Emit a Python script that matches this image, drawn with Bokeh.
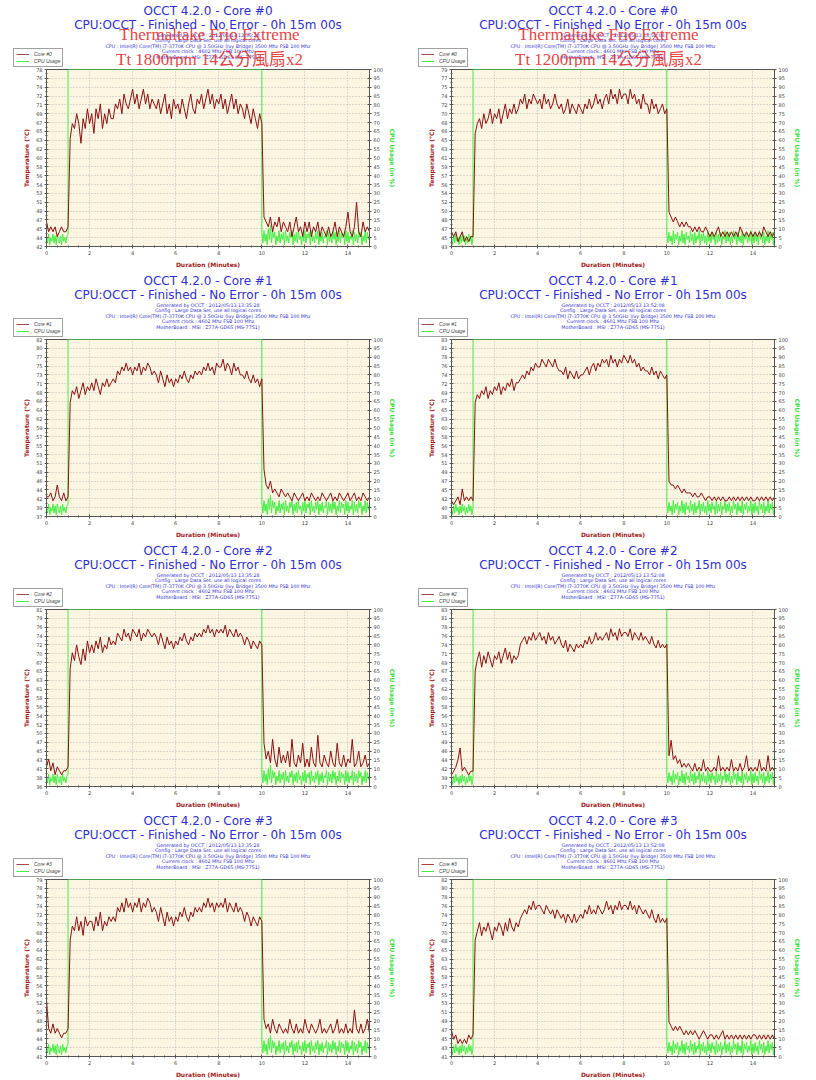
from bokeh.plotting import figure
from bokeh.layouts import column, row
from bokeh.models import Range1d, LinearAxis, FixedTicker, Label, Legend, LegendItem
from bokeh.embed import file_html
from bokeh.resources import INLINE

# ---------------- data ----------------
TIME = [round(i * 0.1, 1) for i in range(151)]          # minutes, one sample / 6 s
CPU_T_IDLE1 = [round(i * 0.05, 2) for i in range(21)]    # 0 .. 1 min
CPU_T_IDLE2 = [round(10 + i * 0.05, 2) for i in range(101)]  # 10 .. 15 min
CPU_T_LOAD = [1.0, 10.0]
CPU_LOAD = [100, 100]

# left column run (Tt 1800rpm)
cpu_a_start = [6, 2, 7, 1, 5, 3, 7, 2, 6, 1, 7, 4, 2, 6, 1, 7, 3, 5, 2, 6, 7]
cpu_a_end = [8, 2, 9, 3, 7, 1, 10, 4, 12, 2, 9, 5, 8, 1, 6, 3, 9, 2, 7, 4,
             8, 1, 9, 3, 6, 2, 8, 5, 9, 1, 7, 3, 8, 2, 9, 4, 6, 1, 8, 3,
             9, 2, 7, 5, 8, 1, 9, 3, 6, 2, 8, 4, 9, 1, 7, 3, 8, 2, 6, 5,
             9, 1, 8, 3, 7, 2, 9, 4, 8, 1, 6, 3, 9, 2, 8, 5, 7, 1, 9, 3,
             8, 2, 6, 4, 9, 1, 8, 3, 7, 2, 9, 5, 8, 1, 6, 3, 9, 2, 8, 4, 7]
# right column run (Tt 1200rpm)
cpu_b_start = [5, 1, 6, 2, 7, 3, 5, 1, 6, 2, 7, 3, 6, 1, 5, 2, 7, 3, 6, 1, 5]
cpu_b_end = [7, 2, 8, 3, 6, 1, 9, 2, 7, 4, 8, 1, 6, 3, 9, 2, 7, 1, 8, 4,
             6, 2, 9, 3, 7, 1, 8, 2, 6, 4, 9, 1, 7, 3, 8, 2, 6, 1, 9, 3,
             7, 2, 8, 4, 6, 1, 9, 2, 7, 3, 8, 1, 6, 4, 9, 2, 7, 3, 8, 1,
             6, 2, 9, 4, 7, 1, 8, 3, 6, 2, 9, 1, 7, 4, 8, 2, 6, 3, 9, 1,
             7, 2, 8, 3, 6, 1, 9, 4, 7, 2, 8, 1, 6, 3, 9, 2, 7, 4, 8, 1, 6]

core0_1800 = [47, 45, 46, 45, 46, 44, 45, 46, 45, 45, 46,
              64, 67, 66, 69, 67, 63, 68, 66, 70, 67,
              69, 65, 70, 68, 71, 66, 69, 67, 70, 68,
              68, 71, 70, 72, 69, 73, 71, 70, 72, 74,
              71, 73, 70, 72, 74, 71, 73, 70, 72, 71,
              70, 72, 69, 71, 73, 69, 71, 68, 72, 70,
              71, 69, 72, 70, 68, 71, 73, 70, 69, 72,
              71, 73, 70, 72, 74, 71, 73, 70, 72, 71,
              73, 70, 72, 69, 71, 73, 70, 72, 69, 71,
              70, 68, 71, 69, 67, 70, 68, 66, 69, 67,
              48, 47, 46, 48, 45, 47, 46, 48, 45, 47,
              46, 45, 47, 44, 46, 48, 45, 46, 44, 47,
              45, 47, 44, 46, 45, 47, 44, 46, 45, 44,
              46, 44, 45, 47, 44, 46, 45, 44, 46, 49,
              45, 44, 46, 51, 45, 44, 47, 45, 46, 45]
core0_1200 = [46, 45, 46, 44, 45, 46, 44, 45, 44, 45, 45,
              66, 68, 69, 67, 70, 68, 69, 71, 68, 70,
              69, 71, 68, 70, 72, 69, 71, 70, 72, 70,
              71, 73, 72, 74, 71, 73, 72, 74, 73, 72,
              73, 71, 74, 72, 73, 71, 72, 74, 72, 71,
              72, 70, 71, 73, 70, 72, 71, 70, 72, 71,
              70, 72, 71, 73, 71, 72, 74, 72, 73, 71,
              73, 74, 72, 75, 73, 74, 72, 75, 73, 74,
              74, 72, 75, 73, 74, 72, 73, 71, 74, 72,
              72, 70, 73, 71, 72, 70, 71, 72, 70, 71,
              50, 49, 48, 49, 48, 47, 48, 47, 48, 47,
              47, 46, 47, 46, 47, 46, 46, 47, 46, 45,
              46, 45, 46, 47, 45, 46, 45, 46, 45, 46,
              45, 46, 45, 47, 46, 45, 46, 45, 46, 45,
              46, 45, 46, 45, 47, 46, 45, 46, 45, 46]
core1_1800 = [42, 42, 43, 41, 42, 45, 42, 41, 43, 41, 42,
              66, 69, 68, 70, 67, 69, 71, 68, 70, 69,
              71, 69, 72, 70, 68, 71, 70, 72, 70, 71,
              72, 71, 74, 73, 75, 74, 76, 74, 75, 73,
              75, 74, 76, 73, 75, 74, 76, 75, 73, 74,
              73, 71, 74, 72, 70, 73, 71, 72, 70, 72,
              71, 73, 72, 74, 72, 71, 73, 72, 74, 73,
              74, 73, 75, 74, 76, 74, 75, 73, 76, 75,
              75, 77, 74, 76, 75, 73, 76, 74, 75, 73,
              73, 72, 74, 72, 71, 73, 71, 72, 70, 72,
              49, 45, 44, 46, 43, 44, 43, 42, 44, 43,
              42, 43, 42, 41, 43, 42, 41, 42, 43, 41,
              42, 41, 43, 42, 41, 42, 41, 43, 42, 41,
              42, 43, 41, 42, 41, 43, 42, 41, 42, 43,
              41, 42, 43, 41, 42, 41, 43, 42, 41, 42]
core1_1200 = [42, 41, 42, 43, 41, 45, 42, 43, 42, 43, 42,
              67, 69, 68, 70, 69, 71, 68, 70, 69, 71,
              70, 72, 69, 71, 70, 72, 71, 73, 70, 72,
              72, 73, 74, 73, 75, 74, 76, 75, 77, 76,
              76, 78, 77, 76, 78, 77, 76, 78, 76, 75,
              75, 74, 76, 73, 75, 74, 73, 75, 73, 74,
              74, 75, 76, 74, 76, 77, 75, 77, 76, 78,
              77, 78, 76, 79, 77, 78, 76, 78, 77, 79,
              78, 77, 79, 77, 78, 76, 77, 75, 76, 75,
              75, 74, 76, 74, 75, 73, 75, 74, 73, 74,
              47, 46, 46, 45, 46, 45, 44, 45, 44, 44,
              44, 43, 44, 43, 43, 44, 43, 42, 43, 43,
              42, 43, 42, 43, 42, 43, 42, 42, 43, 42,
              43, 42, 43, 42, 43, 42, 43, 42, 43, 42,
              42, 43, 42, 43, 42, 43, 42, 43, 42, 43]
core2_1800 = [41, 43, 40, 42, 39, 41, 40, 39, 40, 40, 41,
              66, 70, 68, 72, 69, 67, 71, 68, 73, 70,
              72, 70, 73, 71, 74, 70, 72, 71, 74, 72,
              73, 72, 75, 74, 73, 76, 74, 75, 73, 76,
              75, 74, 76, 73, 75, 74, 76, 75, 74, 75,
              74, 72, 75, 73, 71, 74, 72, 73, 71, 73,
              72, 74, 73, 75, 73, 72, 74, 73, 75, 74,
              75, 74, 76, 75, 77, 75, 76, 74, 76, 75,
              76, 75, 77, 74, 76, 75, 74, 76, 74, 75,
              74, 72, 74, 73, 71, 73, 72, 71, 73, 72,
              47, 43, 45, 42, 48, 43, 41, 46, 42, 44,
              42, 45, 41, 48, 42, 41, 44, 42, 47, 41,
              43, 41, 46, 42, 41, 49, 42, 41, 44, 42,
              41, 45, 42, 41, 47, 42, 41, 44, 41, 43,
              42, 48, 41, 42, 45, 41, 42, 44, 41, 42]
core2_1200 = [40, 41, 42, 44, 47, 41, 42, 41, 40, 41, 41,
              67, 70, 72, 68, 71, 69, 72, 70, 68, 71,
              70, 72, 69, 71, 73, 70, 72, 69, 71, 70,
              71, 74, 75, 76, 74, 76, 75, 77, 75, 76,
              77, 75, 76, 74, 77, 75, 76, 74, 75, 76,
              74, 73, 75, 72, 74, 73, 72, 74, 73, 74,
              73, 75, 74, 76, 74, 75, 77, 75, 76, 75,
              76, 77, 75, 78, 76, 77, 75, 78, 76, 77,
              77, 76, 78, 75, 77, 76, 75, 77, 75, 76,
              75, 74, 76, 74, 73, 75, 73, 74, 73, 74,
              45, 49, 44, 45, 43, 44, 42, 43, 42, 43,
              42, 41, 43, 41, 42, 41, 44, 41, 42, 41,
              41, 42, 41, 45, 41, 42, 41, 42, 41, 44,
              41, 42, 41, 43, 41, 42, 45, 41, 42, 41,
              42, 41, 44, 41, 42, 41, 45, 41, 42, 41]
core3_1800 = [53, 47, 46, 48, 46, 47, 46, 45, 46, 46, 47,
              66, 69, 68, 71, 68, 70, 67, 71, 69, 70,
              70, 68, 71, 69, 72, 68, 70, 69, 71, 70,
              71, 70, 73, 72, 74, 72, 75, 73, 74, 72,
              74, 73, 75, 72, 74, 73, 75, 74, 72, 73,
              72, 70, 73, 71, 69, 72, 70, 71, 69, 71,
              70, 72, 71, 73, 71, 70, 72, 71, 73, 72,
              73, 72, 74, 73, 75, 73, 74, 72, 74, 73,
              74, 73, 75, 72, 74, 73, 72, 74, 72, 73,
              72, 70, 72, 71, 69, 71, 70, 69, 71, 70,
              49, 47, 48, 46, 49, 47, 46, 48, 47, 46,
              47, 46, 49, 47, 46, 48, 46, 47, 46, 49,
              47, 46, 48, 47, 46, 47, 49, 46, 47, 46,
              47, 48, 46, 47, 49, 46, 47, 46, 48, 46,
              47, 46, 51, 47, 46, 48, 46, 47, 49, 46]
core3_1200 = [47, 45, 46, 44, 45, 44, 45, 44, 46, 45, 46,
              68, 70, 72, 69, 71, 70, 72, 70, 68, 71,
              70, 72, 71, 69, 72, 70, 73, 71, 70, 72,
              71, 73, 74, 75, 74, 76, 75, 77, 75, 76,
              76, 75, 74, 76, 75, 74, 75, 73, 75, 74,
              73, 74, 72, 74, 73, 72, 74, 72, 73, 74,
              73, 75, 74, 76, 74, 75, 74, 76, 75, 74,
              75, 77, 75, 76, 74, 76, 75, 77, 75, 76,
              76, 75, 77, 75, 76, 74, 76, 75, 74, 75,
              74, 73, 75, 73, 72, 74, 72, 73, 72, 73,
              49, 48, 47, 48, 47, 48, 47, 46, 47, 46,
              47, 46, 47, 46, 45, 46, 47, 46, 45, 46,
              46, 45, 46, 45, 46, 47, 45, 46, 45, 46,
              45, 46, 45, 46, 45, 46, 45, 46, 45, 46,
              46, 45, 46, 45, 46, 45, 46, 45, 46, 45]

# left-axis tick labels (21 evenly spaced ticks) per panel
ticks_c0_1800 = [42, 44, 45, 47, 49, 51, 53, 54, 56, 58, 60, 62, 63, 65, 67, 69, 71, 72, 74, 76, 78]
ticks_c0_1200 = [43, 45, 47, 48, 50, 52, 54, 56, 57, 59, 61, 63, 65, 66, 68, 70, 72, 74, 75, 77, 79]
ticks_c1_1800 = [37, 39, 42, 44, 46, 48, 51, 53, 55, 57, 59, 62, 64, 66, 68, 71, 73, 75, 77, 80, 82]
ticks_c1_1200 = [38, 40, 42, 45, 47, 49, 51, 54, 56, 58, 60, 63, 65, 67, 69, 72, 74, 76, 78, 81, 83]
ticks_c2_1800 = [36, 38, 41, 43, 45, 47, 50, 52, 54, 56, 58, 61, 63, 65, 67, 70, 72, 74, 76, 79, 81]
ticks_c2_1200 = [37, 39, 42, 44, 46, 49, 51, 53, 56, 58, 60, 62, 65, 67, 69, 71, 74, 76, 78, 81, 83]
ticks_c3_1800 = [41, 42, 44, 46, 48, 50, 52, 54, 56, 58, 60, 62, 64, 66, 68, 70, 72, 74, 76, 78, 79]
ticks_c3_1200 = [41, 43, 45, 47, 49, 51, 53, 55, 57, 58, 61, 63, 65, 68, 70, 72, 74, 76, 78, 80, 82]
cpu_ticks = list(range(0, 101, 5))
x_ticks = [0, 2, 4, 6, 8, 10, 12, 14]

info_left = ["Generated by OCCT : 2012/05/13 13:35:28",
             "Config : Large Data Set, use all logical cores",
             "CPU : Intel(R) Core(TM) i7-3770K CPU @ 3.50GHz (Ivy Bridge) 3500 Mhz FSB 100 Mhz",
             "Current clock : 4602 Mhz FSB 100 Mhz",
             "MotherBoard : MSI : Z77A-GD65 (MS-7751)"]
info_right = ["Generated by OCCT : 2012/05/13 13:52:08",
              "Config : Large Data Set, use all logical cores",
              "CPU : Intel(R) Core(TM) i7-3770K CPU @ 3.50GHz (Ivy Bridge) 3500 Mhz FSB 100 Mhz",
              "Current clock : 4601 Mhz FSB 100 Mhz",
              "MotherBoard : MSI : Z77A-GD65 (MS-7751)"]
overlay_left = ["Thermaltake Frio Extreme", "Tt 1800rpm 14公分風扇x2"]
overlay_right = ["Thermaltake Frio Extreme", "Tt 1200rpm 14公分風扇x2"]

PANELS = [
    (0, 0, 0, core0_1800, ticks_c0_1800),
    (0, 1, 0, core0_1200, ticks_c0_1200),
    (1, 0, 1, core1_1800, ticks_c1_1800),
    (1, 1, 1, core1_1200, ticks_c1_1200),
    (2, 0, 2, core2_1800, ticks_c2_1800),
    (2, 1, 2, core2_1200, ticks_c2_1200),
    (3, 0, 3, core3_1800, ticks_c3_1800),
    (3, 1, 3, core3_1200, ticks_c3_1200),
]

# ---------------- style / layout ----------------
BLUE = "#2f2fcf"
DARKRED = "#8b1010"
AXRED = "#a01818"
GREEN = "#44ee44"
RED = "#e42a2a"
BG = "#fbf5e2"
PW = 408            # panel width
HEAD = 67           # header strip height
FW, FH = 323, 177   # plot frame
BT, BB = 2, 24      # borders of plot figure
TITLE_Y = [10, 24]
INFO_Y = [34.5, 40, 45.5, 51, 56.5]
OV_Y = [34, 58.5]
SERIF = "Liberation Serif, Noto Sans CJK TC"
NAN2 = [float("nan"), float("nan")]


def make_header(ri, col, core):
    bl = 46 if col == 0 else 43
    ovx = 209 if col == 0 else 200
    h = figure(width=PW, height=HEAD, output_backend="svg", toolbar_location=None,
               x_range=Range1d(0, PW), y_range=Range1d(HEAD, 0),
               x_axis_location=None, y_axis_location=None,
               min_border=0, outline_line_color=None,
               background_fill_color="white", border_fill_color="white")
    h.grid.visible = False

    def htxt(x, y, text, size, color, font="DejaVu Sans", alpha=1.0):
        h.add_layout(Label(x=x, y=y, text=text, text_font=font, text_font_size=size,
                           text_color=color, text_align="center", text_baseline="middle",
                           text_alpha=alpha))

    fc = bl + FW / 2.0
    htxt(fc, TITLE_Y[0], "OCCT 4.2.0 - Core #%d" % core, "12px", BLUE)
    htxt(fc, TITLE_Y[1], "CPU:OCCT - Finished - No Error - 0h 15m 00s", "12px", BLUE)
    info = info_left if col == 0 else info_right
    for yy, line in zip(INFO_Y, info):
        htxt(fc, yy, line, "4.8px", BLUE)
    if ri == 0:
        ov = overlay_left if col == 0 else overlay_right
        htxt(ovx, OV_Y[0], ov[0], "17px", RED, font=SERIF, alpha=0.9)
        htxt(ovx, OV_Y[1], ov[1], "17px", RED, font=SERIF, alpha=0.9)

    d_t = h.line(NAN2, NAN2, line_color="#a04848", line_width=1)
    d_c = h.line(NAN2, NAN2, line_color=GREEN, line_width=1)
    lx = 13 if col == 0 else 10
    leg = Legend(items=[LegendItem(label="Core #%d" % core, renderers=[d_t]),
                        LegendItem(label="CPU Usage", renderers=[d_c])],
                 location=(lx, 0), orientation="vertical",
                 label_text_font_size="5px", label_text_font_style="italic",
                 label_text_color="#444444", label_height=6, glyph_height=6,
                 glyph_width=13, label_standoff=5, spacing=1, padding=2, margin=0,
                 border_line_color="#444444", background_fill_color="white",
                 background_fill_alpha=1.0)
    h.add_layout(leg, "center")
    return h


def make_chart(ri, col, core, temps, ylabels):
    bl = 46 if col == 0 else 43
    br = PW - bl - FW
    ymin, ymax = ylabels[0], ylabels[-1]
    p = figure(width=PW, height=BT + FH + BB, output_backend="svg", toolbar_location=None,
               x_range=Range1d(0, 15), y_range=Range1d(ymin, ymax),
               min_border_left=bl, min_border_right=br, min_border_top=BT, min_border_bottom=BB,
               background_fill_color=BG, border_fill_color="white",
               outline_line_color="#555555")
    p.extra_y_ranges = {"cpu": Range1d(0, 100)}

    step = (ymax - ymin) / 20.0
    ypos = [ymin + k * step for k in range(21)]
    yminor = [ymin + (k + 0.5) * step for k in range(20)]

    xa = p.xaxis[0]
    xa.ticker = FixedTicker(ticks=x_ticks, minor_ticks=[i * 0.5 for i in range(31)])
    xa.axis_label = "Duration (Minutes)"
    ya = p.yaxis[0]
    ya.ticker = FixedTicker(ticks=ypos, minor_ticks=yminor)
    ya.major_label_overrides = {v: str(l) for v, l in zip(ypos, ylabels)}
    ya.axis_label = "Temperature (°C)"
    ra = LinearAxis(y_range_name="cpu", ticker=FixedTicker(ticks=cpu_ticks),
                    axis_label="CPU Usage (in %)")
    p.add_layout(ra, "right")
    for ax in (xa, ya, ra):
        ax.major_label_text_font_size = "5px"
        ax.major_label_text_color = "#444444"
        ax.major_label_text_font = "DejaVu Sans"
        ax.major_label_standoff = 2
        ax.axis_label_text_font_size = "6px"
        ax.axis_label_text_font = "DejaVu Sans"
        ax.axis_label_text_font_style = "bold"
        ax.axis_label_text_color = AXRED
        ax.axis_label_standoff = 3
        ax.major_tick_in = 2
        ax.major_tick_out = 2
        ax.minor_tick_in = 1
        ax.minor_tick_out = 1
        ax.axis_line_color = "#555555"
        ax.major_tick_line_color = "#555555"
        ax.minor_tick_line_color = "#555555"
    ra.axis_label_text_color = "#33dd33"

    p.xgrid.grid_line_color = "#b8b8b8"
    p.xgrid.grid_line_dash = "1 2"
    p.ygrid.grid_line_color = "#b8b8b8"
    p.ygrid.grid_line_dash = "1 2"

    ca, cb = (cpu_a_start, cpu_a_end) if col == 0 else (cpu_b_start, cpu_b_end)
    cpu_x = CPU_T_IDLE1 + CPU_T_LOAD + CPU_T_IDLE2
    cpu_y = ca + CPU_LOAD + cb
    p.line(cpu_x, cpu_y, y_range_name="cpu", line_color=GREEN, line_width=1)
    p.line(TIME, temps, line_color=DARKRED, line_width=1)
    return p


rows = []
for i in range(4):
    a, b = PANELS[2 * i], PANELS[2 * i + 1]
    rows.append(row(make_header(a[0], a[1], a[2]), make_header(b[0], b[1], b[2])))
    rows.append(row(make_chart(*a), make_chart(*b)))
layout = column(*rows)

open("out.html", "w").write(file_html(layout, INLINE))
